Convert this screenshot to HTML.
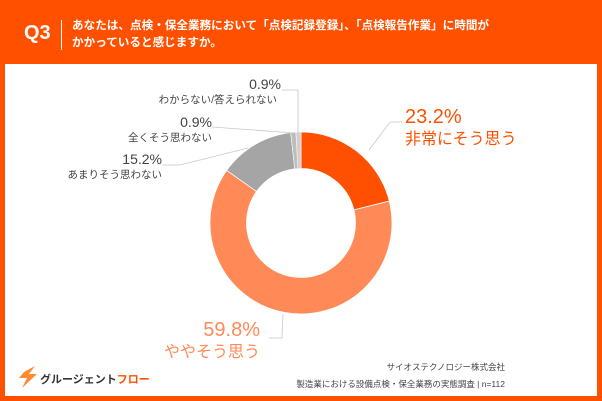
<!DOCTYPE html>
<html><head><meta charset="utf-8"><style>
html,body{margin:0;padding:0}
body{width:602px;height:401px;background:#ff5000;position:relative;overflow:hidden;font-family:"Liberation Sans","Noto Sans CJK JP",sans-serif}
.panel{position:absolute;left:5px;top:64px;width:592px;height:332px;background:#fff}
</style></head><body>
<div style="position:absolute;left:24px;top:22px;color:#fff;font-weight:bold;font-size:20px;">Q3</div>
<div style="position:absolute;left:61px;top:20px;width:1px;height:30px;background:#fff"></div>
<div style="position:absolute;left:72px;top:17px;color:#fff;font-weight:bold;font-size:11.6px;line-height:17px;">あなたは、点検・保全業務において「点検記録登録」、「点検報告作業」に時間が<br>かかっていると感じますか。</div>
<div class="panel"></div>
<svg width="602" height="401" style="position:absolute;left:0;top:0">
<g transform="translate(301,223)">
<path d="M0,-91 A91,91 0 0 1 88.3,-21.9 L52.9,-13.1 A54.5,54.5 0 0 0 0,-54.5Z" fill="#ff4f00" stroke="#fff" stroke-width="0.8"/>
<path d="M88.3,-21.9 A91,91 0 1 1 -74.3,-52.6 L-44.5,-31.5 A54.5,54.5 0 1 0 52.9,-13.1Z" fill="#ff8a58" stroke="#fff" stroke-width="0.8"/>
<path d="M-74.3,-52.6 A91,91 0 0 1 -10.3,-90.4 L-6.2,-54.1 A54.5,54.5 0 0 0 -44.5,-31.5Z" fill="#a5a5a5" stroke="#fff" stroke-width="0.8"/>
<path d="M-10.3,-90.4 A91,91 0 0 1 -5.1,-90.9 L-3.1,-54.4 A54.5,54.5 0 0 0 -6.2,-54.1Z" fill="#bdbdbd" stroke="#fff" stroke-width="0.5"/>
<path d="M-5.1,-90.9 A91,91 0 0 1 0,-91 L0,-54.5 A54.5,54.5 0 0 0 -3.1,-54.4Z" fill="#d0d0d0" stroke="#fff" stroke-width="0.5"/>
</g>
<g fill="none" stroke="#c8c8c8" stroke-width="0.8">
<polyline points="369,150 390,122 402,122"/>
<polyline points="283,314 282,338 269,338"/>
<polyline points="282,90 298,90 298,132"/>
<polyline points="212,127 294,133"/>
<polyline points="163,165 180,165 248,148"/>
</g>
<g font-family="Liberation Sans,Noto Sans CJK JP,sans-serif">
<text x="405" y="123" font-size="20" fill="#ff5000">23.2%</text>
<text x="405" y="144" font-size="16" fill="#ff5000">非常にそう思う</text>
<text x="260" y="336" font-size="20" fill="#ff8a58" text-anchor="end">59.8%</text>
<text x="260" y="357" font-size="16" fill="#ff8a58" text-anchor="end">ややそう思う</text>
<g fill="#444" text-anchor="end">
<text x="281" y="89" font-size="14">0.9%</text>
<text x="277" y="103" font-size="10.5">わからない/答えられない</text>
<text x="212" y="127" font-size="14">0.9%</text>
<text x="212" y="141" font-size="10.5">全くそう思わない</text>
<text x="162" y="164" font-size="14">15.2%</text>
<text x="162" y="178" font-size="10.5">あまりそう思わない</text>
<text x="505" y="370" font-size="8.5">サイオステクノロジー株式会社</text>
<text x="505" y="387" font-size="8.5">製造業における設備点検・保全業務の実態調査 | n=112</text>
</g>
<path d="M24,372 L35,366 L29,374 L37,374 L22,388 L27,378 L19,378Z" fill="#ff8a30"/>
<text x="40" y="383" font-size="11" font-weight="bold" fill="#333">グルージェント<tspan fill="#ff5000">フロー</tspan></text>
</g>
</svg>
</body></html>
